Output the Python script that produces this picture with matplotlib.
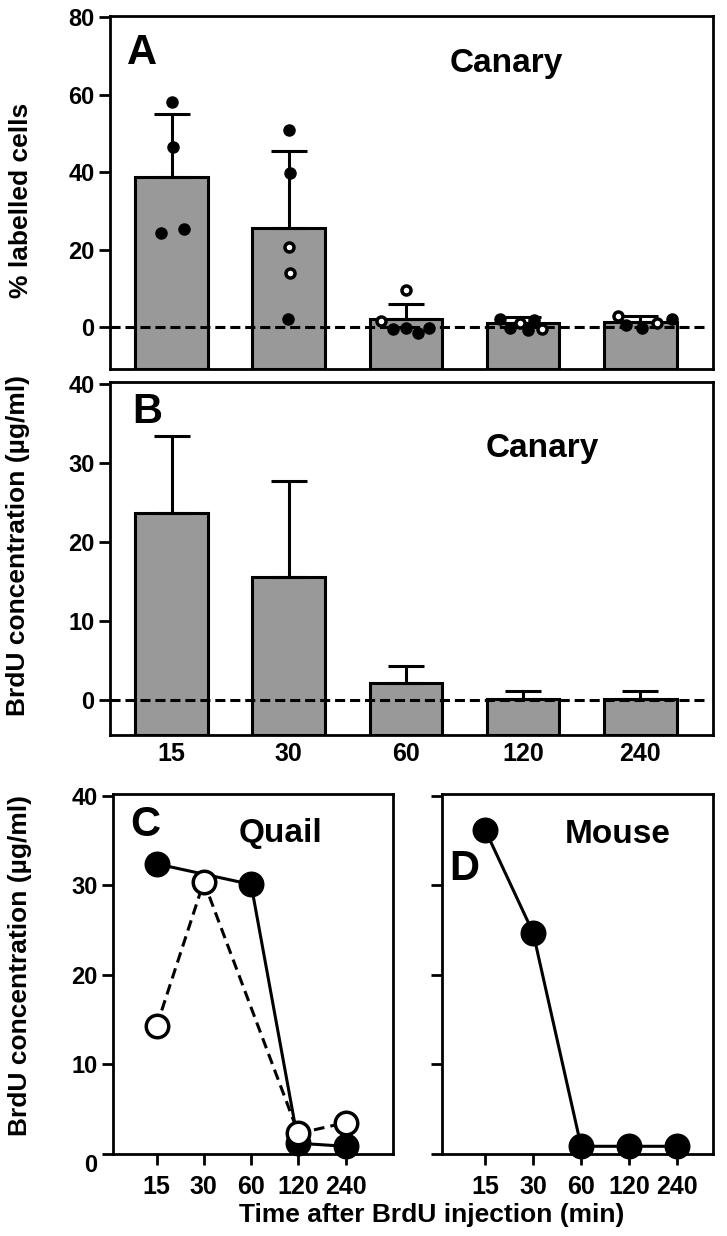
import matplotlib
matplotlib.use("Agg")
import matplotlib.pyplot as plt
import numpy as np

plt.rcParams['font.family'] = ['Liberation Sans', 'DejaVu Sans']
plt.rcParams['font.weight'] = 'bold'

# ---------------- data ----------------
times = ["15", "30", "60", "120", "240"]

# Panel A: % labelled cells (canary)
A_means = [38.7, 25.5, 2.1, 0.95, 1.4]
A_err = [16.4, 20.0, 4.0, 1.75, 1.4]
A_filled_vals = [[58.0, 46.5, 24.3, 25.3],
                 [51.0, 39.8, 2.0],
                 [-0.6, -0.3, -1.4, -0.1],
                 [2.1, -0.1, -0.8, 1.8],
                 [0.5, -0.3, 2.0]]
A_filled_jit = [[0.0, 0.01, -0.09, 0.11],
                [0.0, 0.01, -0.01],
                [-0.11, 0.0, 0.10, 0.20],
                [-0.20, -0.11, 0.04, 0.09],
                [-0.12, 0.01, 0.27]]
A_open_vals = [[], [20.7, 13.9], [9.5, 1.5], [1.1, -0.6], [2.8, 1.2]]
A_open_jit = [[], [0.0, 0.01], [0.0, -0.21], [-0.03, 0.16], [-0.19, 0.14]]

# Panel B: BrdU concentration (canary)
B_means = [23.6, 15.5, 2.1, 0.1, 0.1]
B_err = [9.8, 12.2, 2.1, 1.0, 1.0]

# Panel C: quail (filled = solid line, open = dashed line)
C_filled_idx = [0, 2, 3, 4]
C_filled_vals = [32.4, 30.1, 1.2, 0.86]
C_open_idx = [0, 1, 3, 4]
C_open_vals = [14.25, 30.4, 2.3, 3.5]

# Panel D: mouse
D_vals = [36.2, 24.7, 0.86, 0.86, 0.86]

# ---------------- layout helpers ----------------
W, H = 727, 1236
fig = plt.figure(figsize=(W / 100, H / 100), dpi=100)


def add_ax(l, t, r, b):
    return fig.add_axes([l / W, 1 - b / H, (r - l) / W, (b - t) / H])


def ftext(x, y, s, **kw):
    fig.text(x / W, 1 - y / H, s, **kw)


SP_LW = 2.0
BAR_GRAY = '#999999'
TICK_FS = 17
XTICK_FS = 18
LAB_FS = 19
LET_FS = 30
NAME_FS = 24


def style_ax(ax):
    for sp in ax.spines.values():
        sp.set_linewidth(SP_LW)
    ax.tick_params(axis='both', width=SP_LW, length=8, labelsize=TICK_FS, pad=3)
    ax.tick_params(axis='x', labelsize=XTICK_FS)
    for lab in ax.get_xticklabels() + ax.get_yticklabels():
        lab.set_fontweight('bold')


x = np.arange(len(times))

# ---------------- Panel A ----------------
axA = add_ax(110, 16, 713, 369)
A_ylim = (-10.8, 80.3)
axA.bar(x, np.array(A_means) - A_ylim[0], bottom=A_ylim[0], width=0.62,
        color=BAR_GRAY, edgecolor='black', linewidth=2.2, zorder=2)
axA.errorbar(x, A_means, yerr=[np.zeros(5), A_err], fmt='none', ecolor='black',
             elinewidth=2.2, capsize=13, capthick=2.2, zorder=3)
axA.axhline(0, xmin=0, xmax=0.985, color='black', lw=2.2,
            linestyle=(0, (3.3, 1.6)), zorder=4)
for i in range(5):
    fv = A_filled_vals[i]
    if fv:
        axA.plot(i + np.array(A_filled_jit[i]), fv, 'o', ms=8, mfc='black',
                 mec='black', mew=1, linestyle='none', zorder=5)
    ov = A_open_vals[i]
    if ov:
        axA.plot(i + np.array(A_open_jit[i]), ov, 'o', ms=6.5, mfc='white',
                 mec='black', mew=2.5, linestyle='none', zorder=6)
axA.set_xlim(-0.525, 4.62)
axA.set_ylim(*A_ylim)
axA.set_yticks([0, 20, 40, 60, 80])
axA.set_xticks([])
style_ax(axA)

# ---------------- Panel B ----------------
axB = add_ax(110, 382, 713, 735)
B_ylim = (-4.5, 40.25)
axB.bar(x, np.array(B_means) - B_ylim[0], bottom=B_ylim[0], width=0.62,
        color=BAR_GRAY, edgecolor='black', linewidth=2.2, zorder=2)
axB.errorbar(x, B_means, yerr=[np.zeros(5), B_err], fmt='none', ecolor='black',
             elinewidth=2.2, capsize=13, capthick=2.2, zorder=3)
axB.axhline(0, xmin=0, xmax=0.985, color='black', lw=2.2,
            linestyle=(0, (3.3, 1.6)), zorder=4)
axB.set_xlim(-0.525, 4.62)
axB.set_ylim(*B_ylim)
axB.set_yticks([0, 10, 20, 30, 40])
axB.set_xticks(x)
axB.set_xticklabels(times)
style_ax(axB)
axB.tick_params(axis='x', length=0, pad=5)

# ---------------- Panel C ----------------
axC = add_ax(113, 794, 393, 1154)
axC.plot(C_filled_idx, C_filled_vals, '-o', color='black', lw=2.2, ms=17.7,
         mfc='black', mec='black', mew=1, clip_on=False, zorder=3)
axC.plot(C_open_idx, C_open_vals, 'o', color='black', lw=2.2, ms=16.2,
         linestyle=(0, (3.5, 2)), mfc='white', mec='black', mew=2.5,
         clip_on=False, zorder=4)
axC.set_xlim(-0.92, 5.0)
axC.set_ylim(0, 40.2)
axC.set_yticks([0, 10, 20, 30, 40])
axC.set_xticks(x)
axC.set_xticklabels(times)
style_ax(axC)
axC.tick_params(axis='x', pad=7)
axC.get_yticklabels()[0].set_va('top')

# ---------------- Panel D ----------------
axD = add_ax(442, 794, 713, 1154)
axD.plot(x, D_vals, '-o', color='black', lw=2.2, ms=17.7, mfc='black',
         mec='black', mew=1, clip_on=False, zorder=3)
axD.set_xlim(-0.9, 4.75)
axD.set_ylim(0, 40.2)
axD.set_yticks([0, 10, 20, 30, 40])
axD.set_yticklabels([])
axD.set_xticks(x)
axD.set_xticklabels(times)
style_ax(axD)
axD.tick_params(axis='x', pad=7)

# ---------------- texts ----------------
ftext(127, 64, "A", fontsize=LET_FS, fontweight='bold', va='baseline', ha='left')
ftext(132, 423, "B", fontsize=LET_FS, fontweight='bold', va='baseline', ha='left')
ftext(130, 836, "C", fontsize=LET_FS, fontweight='bold', va='baseline', ha='left')
ftext(449, 880, "D", fontsize=LET_FS, fontweight='bold', va='baseline', ha='left')

ftext(506, 72, "Canary", fontsize=NAME_FS, fontweight='bold', va='baseline', ha='center')
ftext(542, 457, "Canary", fontsize=NAME_FS, fontweight='bold', va='baseline', ha='center')
ftext(280, 842, "Quail", fontsize=NAME_FS, fontweight='bold', va='baseline', ha='center')
ftext(618, 843, "Mouse", fontsize=NAME_FS, fontweight='bold', va='baseline', ha='center')

ftext(21, 200, "% labelled cells", fontsize=LAB_FS, fontweight='bold',
      rotation=90, ha='center', va='center')
ftext(18, 545, "BrdU concentration (µg/ml)", fontsize=LAB_FS, fontweight='bold',
      rotation=90, ha='center', va='center')
ftext(20, 965, "BrdU concentration (µg/ml)", fontsize=LAB_FS, fontweight='bold',
      rotation=90, ha='center', va='center')
ftext(432, 1215, "Time after BrdU injection (min)", fontsize=LAB_FS,
      fontweight='bold', ha='center', va='center')

fig.savefig("out.png", dpi=100)
